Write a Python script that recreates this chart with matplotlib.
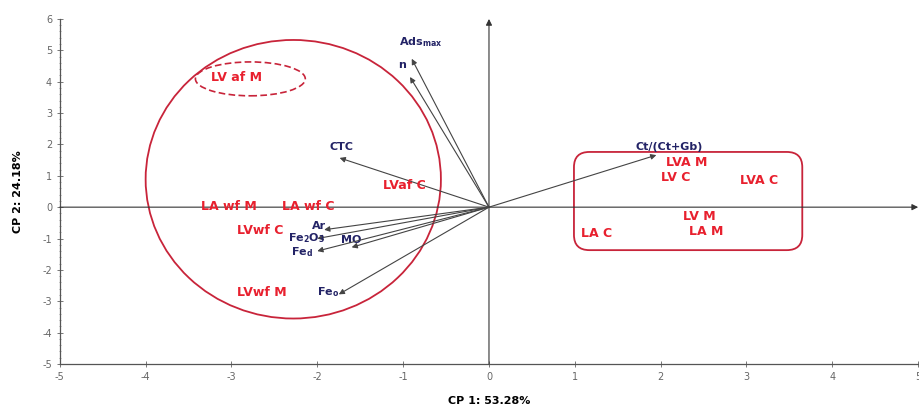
import matplotlib.pyplot as plt
from matplotlib.patches import Ellipse, FancyBboxPatch

plt.rcParams['font.family'] = ['DejaVu Sans']
plt.rcParams['mathtext.fontset'] = 'dejavusans'
plt.rcParams['mathtext.default'] = 'bf'
plt.rcParams['axes.unicode_minus'] = False

# scores of the samples (red labels)
samples = ['LV af M', 'LA wf M', 'LA wf C', 'LVwf C', 'LVaf C', 'LVwf M',
           'LVA M', 'LV C', 'LVA C', 'LV M', 'LA M', 'LA C']
sample_x = [-2.94, -3.03, -2.10, -2.66, -0.98, -2.65,
            2.30, 2.18, 3.15, 2.45, 2.53, 1.25]
sample_y = [4.12, 0.03, 0.03, -0.73, 0.70, -2.72,
            1.41, 0.96, 0.86, -0.29, -0.77, -0.83]

# loadings of the variables (arrows)
variables = ['Ads$_{max}$', 'n', 'CTC', 'Ct/(Ct+Gb)', 'Ar', 'Fe$_2$O$_3$',
             'MO', 'Fe$_d$', 'Fe$_o$']
var_x = [-0.90, -0.92, -1.74, 1.95, -1.92, -2.00, -1.60, -2.00, -1.75]
var_y = [4.73, 4.15, 1.57, 1.66, -0.72, -1.00, -1.28, -1.40, -2.78]
var_lx = [-0.79, -1.01, -1.72, 2.10, -1.98, -2.12, -1.61, -2.18, -1.87]
var_ly = [5.27, 4.54, 1.92, 1.92, -0.60, -1.00, -1.05, -1.42, -2.72]

red = '#e8202e'
navy = '#232366'

fig = plt.figure(figsize=(9.2, 4.12), dpi=100)
ax = fig.add_axes([0.065, 0.1165, 0.933, 0.8375])
ax.set_xlim(-5, 5)
ax.set_ylim(-5, 6)

for s in ['top', 'right']:
    ax.spines[s].set_visible(False)
for s in ['left', 'bottom']:
    ax.spines[s].set_color('#555555')
    ax.spines[s].set_linewidth(0.9)

ax.set_xticks(range(-5, 6))
ax.set_yticks(range(-5, 7))
ax.set_yticks([v / 5 for v in range(-25, 31)], minor=True)
ax.tick_params(axis='both', which='major', direction='inout', length=4,
               width=0.7, color='#777777', labelsize=7, labelcolor='#666666')
ax.tick_params(axis='y', which='minor', direction='inout', length=2,
               width=0.5, color='#888888')

ax.set_xlabel('CP 1: 53.28%', fontsize=8, fontweight='bold', labelpad=10)
ax.set_ylabel('CP 2: 24.18%', fontsize=8, fontweight='bold', labelpad=14)

# axes through the origin
ax.annotate('', xy=(5.0, 0), xytext=(-5, 0),
            arrowprops=dict(arrowstyle='-|>', color='#333333', lw=0.8,
                            mutation_scale=9, shrinkA=0, shrinkB=0))
ax.annotate('', xy=(0, 6.0), xytext=(0, -5),
            arrowprops=dict(arrowstyle='-|>', color='#333333', lw=0.8,
                            mutation_scale=9, shrinkA=0, shrinkB=0))

# group outlines
ax.add_patch(Ellipse((-2.28, 0.89), 3.44, 8.88, fill=False,
                     edgecolor='#c8243a', lw=1.3))
ax.add_patch(Ellipse((-2.78, 4.09), 1.28, 1.08, fill=False,
                     edgecolor='#c8243a', lw=1.2, ls=(0, (4, 2))))
ax.add_patch(FancyBboxPatch((0.99, -1.37), 2.66, 3.13,
                            boxstyle='round,pad=0,rounding_size=0.18',
                            mutation_aspect=2.7, fill=False,
                            edgecolor='#c8243a', lw=1.3))

# variable arrows
for name, x, y, lx, ly in zip(variables, var_x, var_y, var_lx, var_ly):
    ax.annotate('', xy=(x, y), xytext=(0, 0),
                arrowprops=dict(arrowstyle='-|>', color='#444444', lw=0.8,
                                mutation_scale=8, shrinkA=0, shrinkB=0))
    ax.text(lx, ly, name, color=navy, fontsize=8, fontweight='bold',
            ha='center', va='center')

for name, x, y in zip(samples, sample_x, sample_y):
    ax.text(x, y, name, color=red, fontsize=9, fontweight='bold',
            ha='center', va='center')

fig.savefig('out.png', dpi=100)
